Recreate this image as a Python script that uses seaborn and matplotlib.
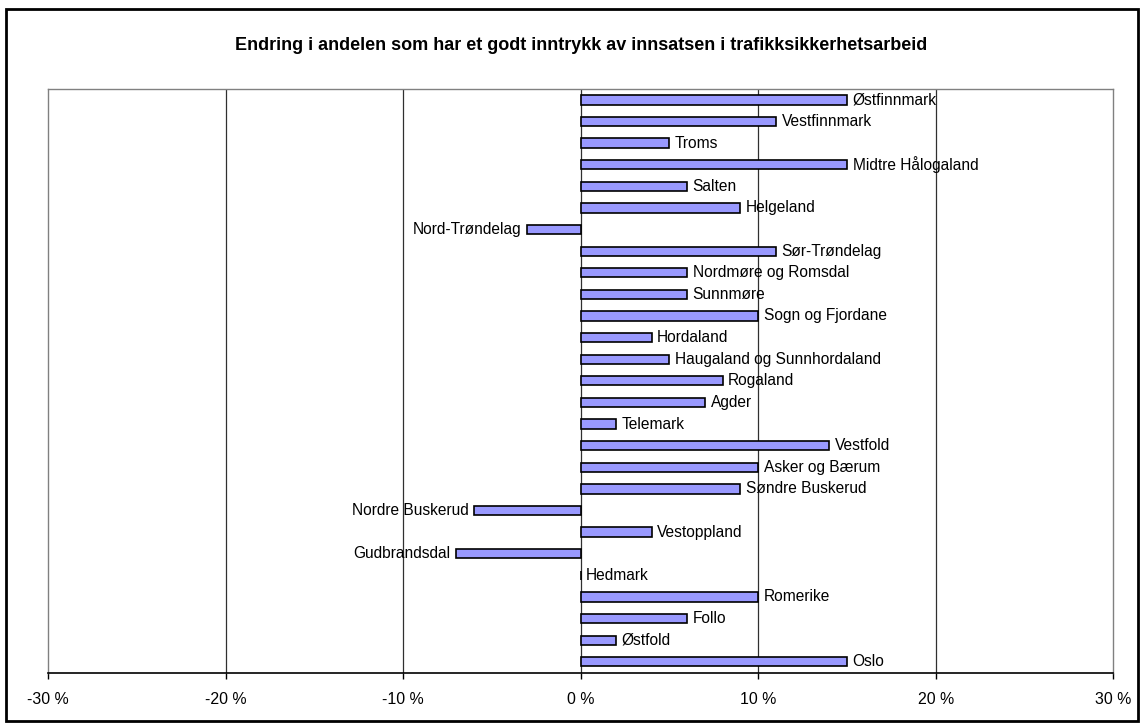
import matplotlib
matplotlib.use("Agg")
import matplotlib.pyplot as plt
import seaborn as sns
import pandas as pd
from matplotlib.ticker import FuncFormatter
from matplotlib.patches import Rectangle

# data (percentage points, top to bottom)
regions = [
    "Østfinnmark", "Vestfinnmark", "Troms", "Midtre Hålogaland", "Salten",
    "Helgeland", "Nord-Trøndelag", "Sør-Trøndelag", "Nordmøre og Romsdal",
    "Sunnmøre", "Sogn og Fjordane", "Hordaland", "Haugaland og Sunnhordaland",
    "Rogaland", "Agder", "Telemark", "Vestfold", "Asker og Bærum",
    "Søndre Buskerud", "Nordre Buskerud", "Vestoppland", "Gudbrandsdal",
    "Hedmark", "Romerike", "Follo", "Østfold", "Oslo",
]
change = [15, 11, 5, 15, 6, 9, -3, 11, 6, 6, 10, 4, 5, 8, 7, 2, 14, 10, 9,
          -6, 4, -7, 0, 10, 6, 2, 15]
xticks = [-30, -20, -10, 0, 10, 20, 30]

df = pd.DataFrame({"region": regions, "change": change})

sns.set_style("white")
plt.rcParams["font.family"] = ["Liberation Sans", "DejaVu Sans"]
plt.rcParams["text.color"] = "black"
plt.rcParams["xtick.color"] = "black"

fig = plt.figure(figsize=(11.43, 7.24), dpi=100)
ax = fig.add_axes([0.042, 0.071, 0.932, 0.806])

sns.barplot(data=df, x="change", y="region", orient="h", color="#9999FF",
            saturation=1, edgecolor="black", linewidth=1.2, width=0.43, ax=ax)

for i, row in df.iterrows():
    off = 4 if row.change >= 0 else -4
    ax.annotate(row.region, (row.change, i), xytext=(off, 0),
                textcoords="offset points", va="center",
                ha="left" if row.change >= 0 else "right", fontsize=11.2)

ax.set_xlim(-30, 30)
ax.set_xticks(xticks)
ax.xaxis.set_major_formatter(FuncFormatter(lambda v, p: f"{int(v)} %"))
ax.tick_params(axis="x", direction="out", length=4, width=1, color="black",
               labelsize=11.4, labelcolor="black", pad=10, bottom=True)
ax.set_yticks([])
ax.set_xlabel("")
ax.set_ylabel("")
for v in xticks[1:-1]:
    ax.axvline(v, color="#303030", lw=0.9, zorder=0)
for s in ["left", "top", "right"]:
    ax.spines[s].set_color("#808080")
    ax.spines[s].set_linewidth(1)
ax.spines["bottom"].set_color("black")
ax.spines["bottom"].set_linewidth(1.2)

fig.text(0.508, 0.937, "Endring i andelen som har et godt inntrykk av innsatsen i trafikksikkerhetsarbeid",
         ha="center", va="center", fontsize=13, fontweight="bold")

fig.patches.append(Rectangle((0.005, 0.004), 0.991, 0.984, transform=fig.transFigure,
                             fill=False, edgecolor="black", lw=2))

fig.savefig("out.png", dpi=100)
